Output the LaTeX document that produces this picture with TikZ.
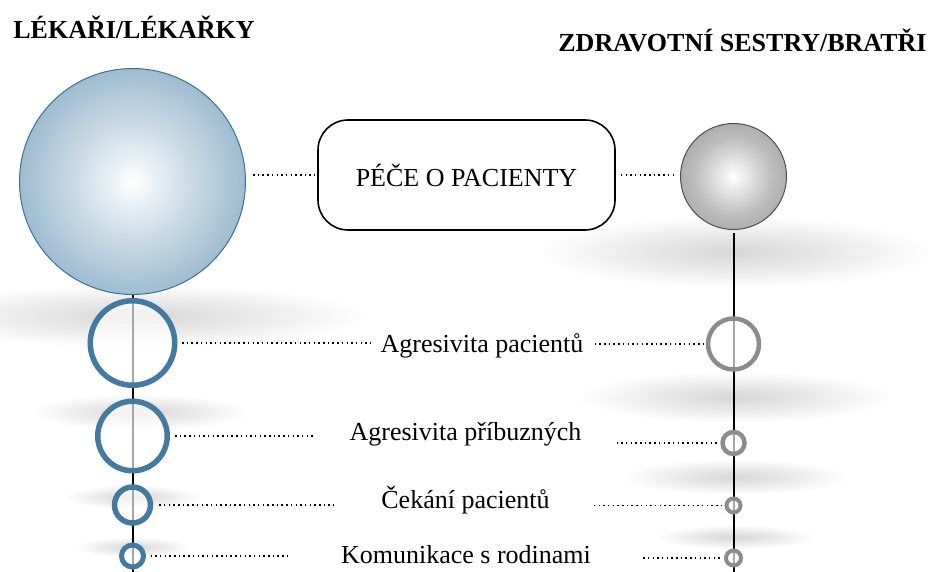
\documentclass[tikz,border=0pt]{standalone}
\usepackage{fontspec}
\setmainfont{Liberation Serif}
\usetikzlibrary{fadings,backgrounds}
\definecolor{doc_blue}{RGB}{68,121,160}
\definecolor{doc_line}{RGB}{62,112,150}
\definecolor{doc_light}{RGB}{205,221,232}
\definecolor{doc_mid}{RGB}{140,176,200}
\definecolor{doc_edge}{RGB}{98,142,174}
\definecolor{nurse_gray}{RGB}{140,140,140}
\definecolor{nurse_line}{RGB}{80,80,80}
\definecolor{nurse_mid}{RGB}{190,190,190}
\definecolor{nurse_edge}{RGB}{120,120,120}
\pgfdeclareradialshading{docball}{\pgfpoint{0bp}{0bp}}{color(0bp)=(white); color(12bp)=(doc_light); color(30bp)=(doc_mid); color(50bp)=(doc_edge)}
\pgfdeclareradialshading{nurseball}{\pgfpoint{0bp}{0bp}}{color(0bp)=(white); color(18bp)=(nurse_mid); color(50bp)=(nurse_edge)}
\tikzfading[name=shadowfade, inner color=transparent!0, outer color=transparent!100]

\begin{document}
\begin{tikzpicture}[x=1pt,y=-1pt]
    \tikzstyle{sphere}=[circle, inner sep=0pt, shade, line width=1pt]
    \tikzstyle{docring}=[draw=doc_blue, circle, line width=5.5pt, fill=white, fill opacity=0.65, inner sep=0pt]
    \tikzstyle{nurring}=[draw=nurse_gray, circle, line width=4.5pt, fill=white, fill opacity=0.65, inner sep=0pt]
    \tikzstyle{itemtext}=[font=\fontsize{26}{30}\selectfont, inner sep=0pt, anchor=base]
    \tikzstyle{headtext}=[font=\fontsize{26}{30}\selectfont\bfseries, inner sep=0pt, anchor=base]
    \tikzstyle{dotline}=[draw=black, line width=1.5pt, dash pattern=on 1.5pt off 3.2pt]
    \tikzstyle{vline}=[draw=black, line width=2pt]
    \tikzstyle{softshadow}=[black, opacity=0.16, path fading=shadowfade]

    \useasboundingbox (0,0) rectangle (934,572);

    \node[headtext] (docTitle)   at (134,39)   {LÉKAŘI/LÉKAŘKY};
    \node[headtext] (nurseTitle) at (742.5,52) {ZDRAVOTNÍ SESTRY/BRATŘI};

    \node[sphere, shading=docball, draw=doc_line, minimum size=226pt]     (docSphere)   at (132.5,181.5) {};
    \node[sphere, shading=nurseball, draw=nurse_line, minimum size=106pt] (nurseSphere) at (733.5,176.5) {};
    \node[draw, line width=1.6pt, rounded corners=30pt, minimum width=297pt, minimum height=110pt,
          inner sep=0pt, font=\fontsize{26}{30}\selectfont] (care) at (466.5,175) {PÉČE O PACIENTY};

    \node[docring, minimum size=84.5pt]             (dA) at (132.5,343) {};
    \node[docring, minimum size=69.5pt]             (dB) at (132.5,436) {};
    \node[docring, minimum size=36pt]               (dC) at (132.5,505) {};
    \node[docring, minimum size=22pt, line width=5pt] (dD) at (132.5,556) {};

    \node[nurring, minimum size=51pt]               (nA) at (733.5,344) {};
    \node[nurring, minimum size=22pt]               (nB) at (733.5,443) {};
    \node[nurring, minimum size=14pt, line width=4pt] (nC) at (733.5,505.5) {};
    \node[nurring, minimum size=15pt, line width=4pt] (nD) at (733.5,558) {};

    \node[itemtext] (tA) at (482,352)   {Agresivita pacientů};
    \node[itemtext] (tB) at (465.5,440) {Agresivita příbuzných};
    \node[itemtext] (tC) at (465.5,508) {Čekání pacientů};
    \node[itemtext] (tD) at (466,563)   {Komunikace s rodinami};

    \coordinate (docEnd)   at (132.5,572);
    \coordinate (nurseEnd) at (733.5,572);

    \path
     (care.west -| docSphere.east) edge[dotline, shorten <=7pt, shorten >=2pt] (care.west)
     (care.east) edge[dotline, shorten <=5pt, shorten >=3pt] (care.east -| nurseSphere.west)
     (dA.east) edge[dotline, shorten <=4.5pt, shorten >=10pt] (dA.east -| tA.west)
     (tA.east |- nA.west) edge[dotline, shorten <=11pt, shorten >=2.5pt] (nA.west)
     (dB.east) edge[dotline, shorten <=5pt, shorten >=35pt] (dB.east -| tB.west)
     (tB.east |- nB.west) edge[dotline, shorten <=35pt, shorten >=2.5pt] (nB.west)
     (dC.east) edge[dotline, shorten <=6pt, shorten >=47pt] (dC.east -| tC.west)
     (tC.east |- nC.west) edge[dotline, shorten <=44pt, shorten >=2pt] (nC.west)
     (dD.east) edge[dotline, shorten <=4.5pt, shorten >=51pt] (dD.east -| tD.west)
     (tD.east |- nD.west) edge[dotline, shorten <=52pt, shorten >=1.5pt] (nD.west)
     ;

    % shadows and the two spines go behind
    \begin{scope}[on background layer]
      \fill[softshadow] (140,316) ellipse (230 and 32);
      \fill[softshadow] (140,412) ellipse (110 and 18);
      \fill[softshadow] (133,497) ellipse (70 and 12);
      \fill[softshadow] (133,547) ellipse (58 and 10);
      \fill[softshadow] (735,252) ellipse (200 and 36);
      \fill[softshadow] (735,397) ellipse (160 and 26);
      \fill[softshadow] (735,477) ellipse (115 and 18);
      \fill[softshadow] (735,537) ellipse (80 and 12);
      \path
       (docSphere.south) edge[vline] (docEnd)
       (nurseSphere.south) edge[vline, shorten <=3pt] (nurseEnd);
    \end{scope}
\end{tikzpicture}
\end{document}
